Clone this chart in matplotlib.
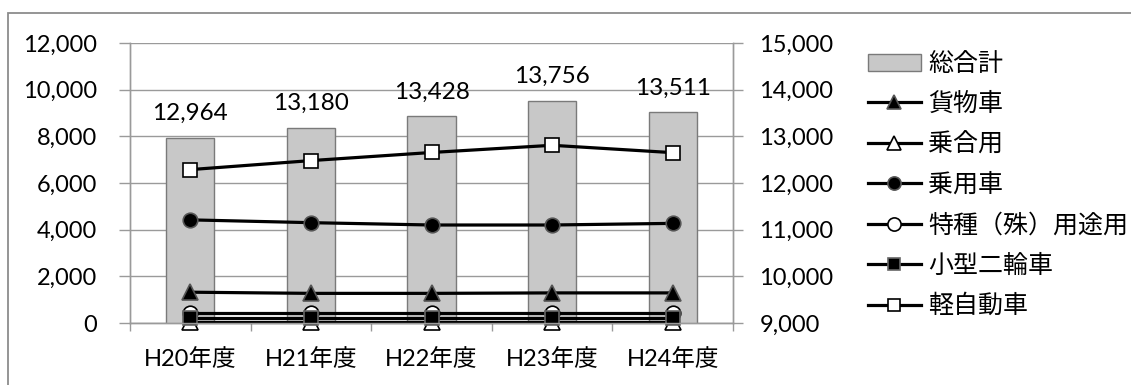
import matplotlib
matplotlib.use("Agg")
import matplotlib.pyplot as plt
from matplotlib.patches import Patch, Rectangle
from matplotlib.lines import Line2D
from matplotlib.ticker import FuncFormatter

plt.rcParams['font.family'] = ['Lato', 'Noto Sans CJK JP', 'DejaVu Sans']

# ---- data ----
years = ["H20年度", "H21年度", "H22年度", "H23年度", "H24年度"]
total = [12964, 13180, 13428, 13756, 13511]          # 総合計 (right axis)
kamotsu = [1320, 1270, 1270, 1290, 1290]             # 貨物車
noriai = [40, 40, 40, 40, 40]                        # 乗合用
jouyou = [4420, 4300, 4200, 4200, 4270]              # 乗用車
tokushu = [410, 410, 410, 410, 410]                  # 特種(殊)用途用
kogata = [200, 200, 200, 200, 200]                   # 小型二輪車
kei = [6574, 6960, 7308, 7616, 7301]                 # 軽自動車

W, H = 1131, 385
fig = plt.figure(figsize=(W / 100, H / 100), dpi=100)

# outer chart border (only left/top visible in the crop)
fig.patches.append(Rectangle((8 / W, -0.1), 1.2, (H - 13) / H + 0.1,
                             transform=fig.transFigure, fill=False,
                             edgecolor='#8c8c8c', linewidth=1.3))

ax = fig.add_axes([130 / W, (H - 323) / H, (733 - 130) / W, 280 / H])
ax2 = ax.twinx()

grid_col = '#9a9a9a'
x = list(range(len(years)))

# bars on the 9,000-15,000 scale
bars = ax.bar(x, total, width=0.4, bottom=0, color='#c8c8c8',
              edgecolor='#7a7a7a', linewidth=1.0, zorder=2)
ax.set_ylim(9000, 15000)
ax.set_yticks(range(9000, 15001, 1000))
ax.yaxis.tick_right()
ax.yaxis.set_label_position('right')
ax.yaxis.grid(True, color=grid_col, linewidth=1.0, zorder=0)
ax.set_axisbelow(True)
ax.bar_label(bars, labels=[f"{v:,}" for v in total], padding=10, fontsize=17.5)

ax.set_xlim(-0.5, len(years) - 0.5)
ax.set_xticks(x)
ax.set_xticklabels(years, fontsize=17)
ax.set_xticks([i - 0.5 for i in range(len(years) + 1)], minor=True)
ax.tick_params(axis='x', which='major', length=0, pad=18)
ax.tick_params(axis='x', which='minor', length=6, color=grid_col, width=1.0)
ax.tick_params(axis='y', length=7, color=grid_col, width=1.0, labelsize=17, pad=12)

fmt = FuncFormatter(lambda v, p: f"{int(v):,}")
ax.yaxis.set_major_formatter(fmt)

# lines on the 0-12,000 scale
series = [
    ("貨物車", kamotsu, '^', 'black', '#555555', 11),
    ("乗合用", noriai, '^', 'white', 'black', 11),
    ("乗用車", jouyou, 'o', 'black', '#555555', 10.5),
    ("特種（殊）用途用", tokushu, 'o', 'white', 'black', 10.5),
    ("小型二輪車", kogata, 's', 'black', '#666666', 10),
    ("軽自動車", kei, 's', 'white', 'black', 10),
]
handles = [Patch(facecolor='#c8c8c8', edgecolor='#7a7a7a', label="総合計")]
for name, vals, mk, fc, ec, ms in series:
    ax2.plot(x, vals, color='black', linewidth=2.3, marker=mk, markersize=ms,
             markerfacecolor=fc, markeredgecolor=ec, markeredgewidth=1.2,
             clip_on=False)
    handles.append(Line2D([], [], color='black', linewidth=2.3, marker=mk,
                          markersize=ms - 1, markerfacecolor=fc,
                          markeredgecolor=ec, markeredgewidth=1.2, label=name))

ax2.set_ylim(0, 12000)
ax2.set_yticks(range(0, 12001, 2000))
ax2.yaxis.tick_left()
ax2.yaxis.set_major_formatter(fmt)
ax2.tick_params(axis='y', length=8, color=grid_col, width=1.0, labelsize=17, pad=16)

for a in (ax, ax2):
    a.spines['top'].set_visible(False)
    for s in ('left', 'right', 'bottom'):
        a.spines[s].set_color(grid_col)
        a.spines[s].set_linewidth(1.0)

fig.legend(handles=handles, loc='upper left',
           bbox_to_anchor=(858 / W, (H - 42) / H), frameon=False,
           fontsize=18, handlelength=2.1, handletextpad=0.3,
           labelspacing=0.68, borderaxespad=0)

fig.savefig("out.png", dpi=100)
